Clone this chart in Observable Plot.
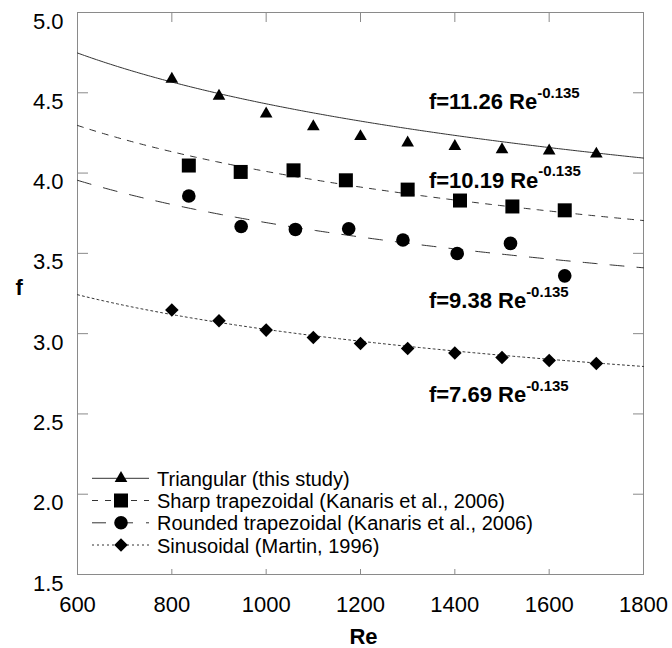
<!DOCTYPE html>
<html>
<head>
<meta charset="utf-8">
<script src="https://cdn.jsdelivr.net/npm/d3@7"></script>
<script src="https://cdn.jsdelivr.net/npm/@observablehq/plot@0.6"></script>
<style>
  body { margin: 0; background: #fff; }
  #chart { position: relative; width: 672px; height: 648px; font-family: "Liberation Sans", Arial, sans-serif; }
  #legend { position: absolute; left: 0; top: 0; pointer-events: none; }
</style>
</head>
<body>
<div id="chart"></div>
<script>
// Measured friction factor f versus Reynolds number Re for four channel geometries
const triangularRe = [800, 900, 1000, 1100, 1200, 1300, 1400, 1500, 1600, 1700];
const triangularF = [4.585, 4.479, 4.369, 4.289, 4.228, 4.189, 4.167, 4.146, 4.138, 4.119];

const sharpRe = [836, 946, 1058, 1169, 1300, 1411, 1522, 1633];
const sharpF = [4.047, 4.007, 4.017, 3.955, 3.897, 3.829, 3.792, 3.768];

const roundedRe = [836, 947, 1062, 1175, 1290, 1405, 1518, 1633];
const roundedF = [3.857, 3.667, 3.649, 3.653, 3.583, 3.499, 3.562, 3.360];

const sinusoidalRe = [800, 900, 1000, 1100, 1200, 1300, 1400, 1500, 1600, 1700];
const sinusoidalF = [3.147, 3.080, 3.022, 2.976, 2.939, 2.908, 2.879, 2.852, 2.833, 2.814];

const seriesNames = [
  "Triangular (this study)",
  "Sharp trapezoidal (Kanaris et al., 2006)",
  "Rounded trapezoidal (Kanaris et al., 2006)",
  "Sinusoidal (Martin, 1996)"
];

// Power-law fits f = C * Re^n
const fitCoefficients = [11.26, 10.19, 9.38, 7.69];
const fitExponent = -0.135;

// Fit equation labels, anchored at (Re, f)
const fitLabelRe = [1345, 1345, 1345, 1345];
const fitLabelF = [4.399, 3.910, 3.157, 2.572];

const xTicks = [600, 800, 1000, 1200, 1400, 1600, 1800];
const yTicks = [1.5, 2.0, 2.5, 3.0, 3.5, 4.0, 4.5, 5.0];

// ---- derived tables ----
const symbols = ["triangle", "square", "circle", "diamond2"];
const radii = [4.7, 7.9, 6.8, 6.1];
const dashes = [null, "6,7", "14,13", "2,3"];
const seriesRe = [triangularRe, sharpRe, roundedRe, sinusoidalRe];
const seriesF = [triangularF, sharpF, roundedF, sinusoidalF];

const points = seriesRe.map((res, s) => res.map((re, i) => ({series: s, re, f: seriesF[s][i]})));
const reSamples = d3.range(600, 1800.001, 5);
const curves = fitCoefficients.map((c, s) => reSamples.map(re => ({series: s, re, f: c * Math.pow(re, fitExponent)})));
const fitLabels = fitCoefficients.map((c, i) => ({
  re: fitLabelRe[i], f: fitLabelF[i],
  text: `f=${c.toFixed(2)} Re^${fitExponent}`
}));

const W = 672, H = 648;
const mL = 77, mR = 29, mT = 12, mB = 74;
const innerW = W - mL - mR, innerH = H - mT - mB;
const innerX = xTicks.slice(1, -1), innerY = yTicks.slice(1, -1);
const axisGray = "#8a8a8a";

const chart = Plot.plot({
  width: W,
  height: H,
  marginLeft: mL, marginRight: mR, marginTop: mT, marginBottom: mB,
  style: {fontFamily: "'Liberation Sans', Arial, sans-serif", fontSize: "22px", background: "#fff", overflow: "visible"},
  x: {domain: [600, 1800]},
  y: {domain: [1.5, 5.0]},
  marks: [
    Plot.frame({stroke: axisGray, strokeWidth: 1}),
    // inward ticks on all four sides
    Plot.tickY(innerY, {y: d => d, stroke: axisGray, insetRight: innerW - 11}),
    Plot.tickY(innerY, {y: d => d, stroke: axisGray, insetLeft: innerW - 10}),
    Plot.tickX(innerX, {x: d => d, stroke: axisGray, insetBottom: innerH - 10}),
    Plot.tickX(innerX, {x: d => d, stroke: axisGray, insetTop: innerH - 5}),
    Plot.axisY({ticks: yTicks, tickSize: 0, tickPadding: 14, dy: 9, fontSize: 22, tickFormat: d3.format(".1f"), label: null}),
    Plot.axisX({ticks: xTicks, tickSize: 0, tickPadding: 22, fontSize: 22, tickFormat: d3.format("d"), label: null}),
    Plot.text(["Re"], {frameAnchor: "bottom", dx: 3, dy: 69, lineAnchor: "bottom", fontSize: 22, fontWeight: "bold"}),
    Plot.text(["f"], {frameAnchor: "left", dx: -62, dy: -6, fontSize: 22, fontWeight: "bold"}),
    // fitted power-law curves
    ...curves.map((c, s) => Plot.line(c, {x: "re", y: "f", stroke: "#333", strokeWidth: 1, strokeDasharray: dashes[s]})),
    // measured points
    ...points.map((p, s) => Plot.dot(p, {x: "re", y: "f", symbol: symbols[s], r: radii[s], fill: "#000", stroke: "none"})),
    // fit equations
    Plot.text(fitLabels, {x: "re", y: "f", text: "text", textAnchor: "start", lineAnchor: "bottom", fontSize: 22, fontWeight: "bold", fill: "#000"})
  ]
});

// turn "Re^-0.135" into a superscript exponent
chart.querySelectorAll("text").forEach(t => {
  const s = t.textContent;
  if (!s.includes("^")) return;
  const [base, exp] = s.split("^");
  t.textContent = base;
  const sup = document.createElementNS("http://www.w3.org/2000/svg", "tspan");
  sup.setAttribute("dy", "-11.5");
  sup.setAttribute("font-size", "15");
  sup.textContent = exp;
  t.appendChild(sup);
});

const host = document.getElementById("chart");
host.appendChild(chart);

// legend inside the lower-left corner of the frame
const legend = d3.select(host).append("svg")
  .attr("id", "legend").attr("width", W).attr("height", H);
const rowY = [478.3, 500.5, 522.8, 545];
const symbolTypes = [d3.symbolTriangle, d3.symbolSquare, d3.symbolCircle, d3.symbolDiamond2];
seriesNames.forEach((name, s) => {
  const g = legend.append("g").attr("transform", `translate(0,${rowY[s]})`);
  g.append("line").attr("x1", 92).attr("x2", 149).attr("y1", 0).attr("y2", 0)
    .attr("stroke", "#333").attr("stroke-width", 1).attr("stroke-dasharray", dashes[s]);
  g.append("path").attr("transform", "translate(121,0)")
    .attr("d", d3.symbol(symbolTypes[s], Math.PI * radii[s] * radii[s])())
    .attr("fill", "#000");
  g.append("text").attr("x", 157).attr("y", 7.5)
    .attr("font-family", "'Liberation Sans', Arial, sans-serif").attr("font-size", 20)
    .attr("fill", "#000").text(name);
});
</script>
</body>
</html>
